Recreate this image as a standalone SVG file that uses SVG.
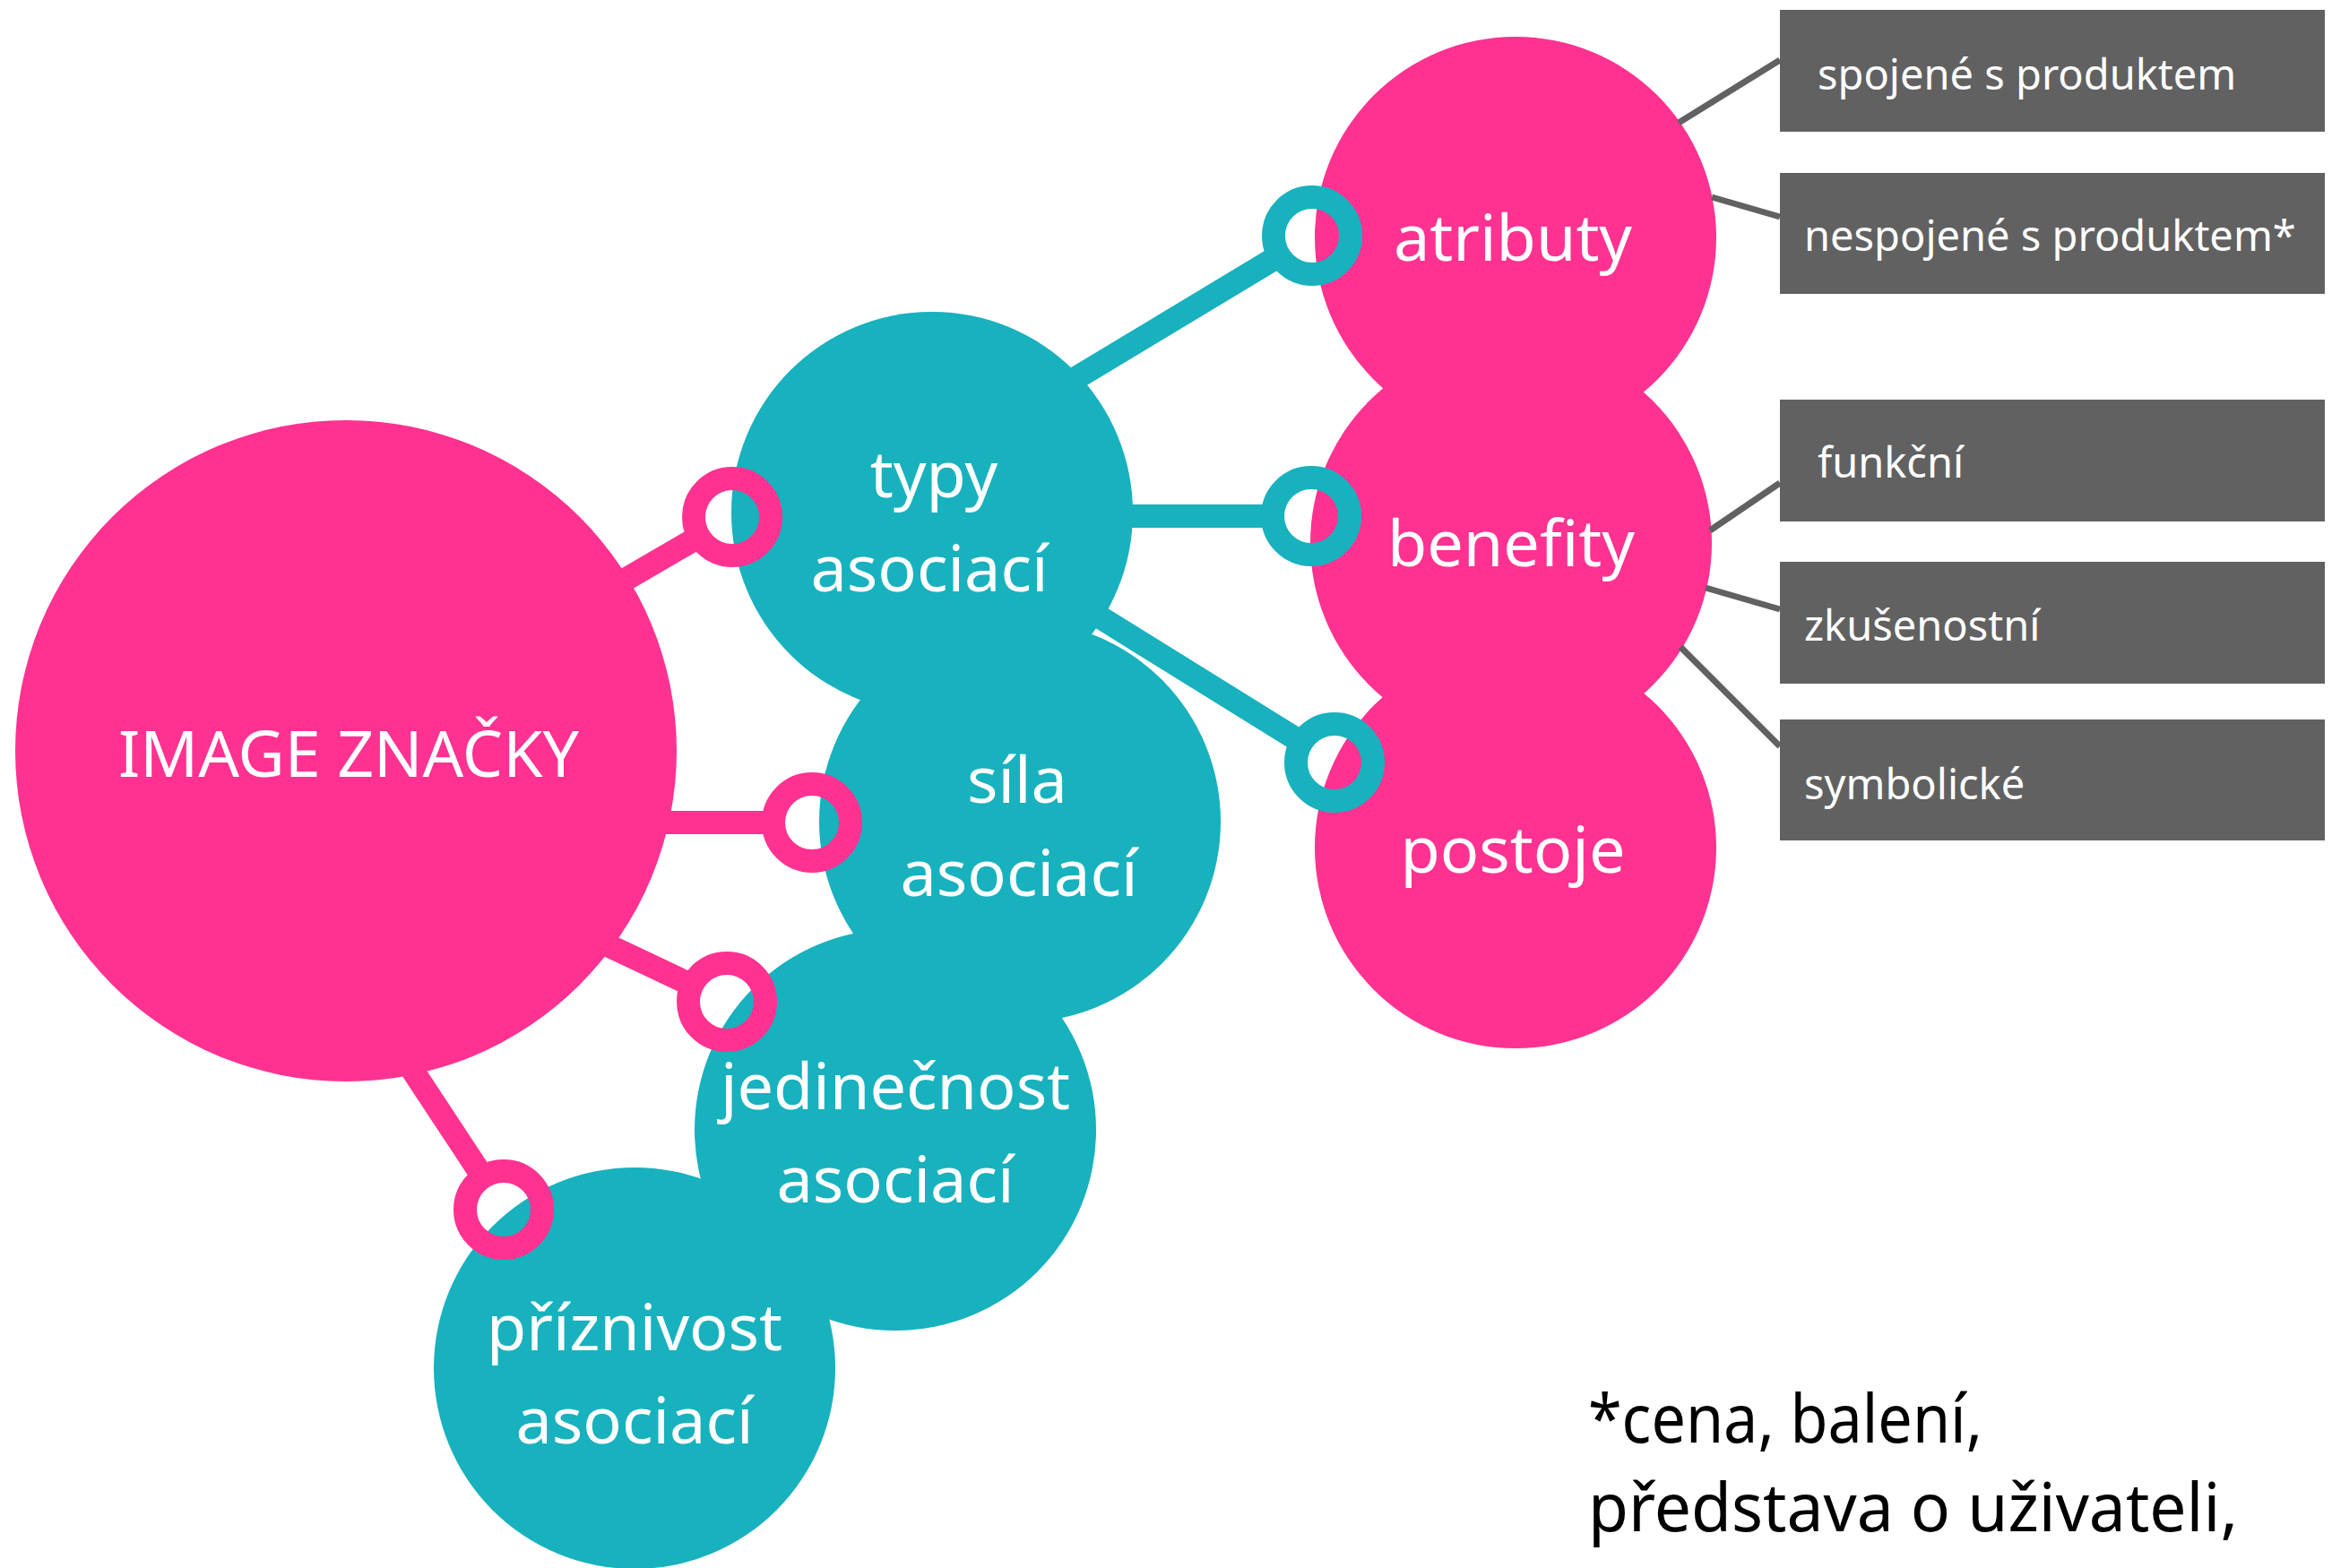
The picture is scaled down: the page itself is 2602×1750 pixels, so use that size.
<svg xmlns="http://www.w3.org/2000/svg" width="2602" height="1750" viewBox="0 0 2602 1750">
<style>
.pink{fill:#FF3291}
.teal{fill:#18B1BE}
.box{fill:#616161}
.lbl{font-family:"Noto Sans","Open Sans","DejaVu Sans",sans-serif;font-size:72px;fill:#FFFFFF;text-anchor:middle}
.blbl{font-family:"Noto Sans","Open Sans","DejaVu Sans",sans-serif;font-size:47px;fill:#FFFFFF}
.note{font-family:"Noto Sans","Open Sans","DejaVu Sans",sans-serif;font-size:74px;fill:#000000}
.lp{stroke:#FF3291;stroke-width:26;fill:none}
.lt{stroke:#18B1BE;stroke-width:26;fill:none}
.lg{stroke:#616161;stroke-width:7;fill:none}
.rp{stroke:#FF3291;stroke-width:26;fill:none}
.rt{stroke:#18B1BE;stroke-width:26;fill:none}
</style>
<rect width="2602" height="1750" fill="#FFFFFF"/>
<g id="node-image">
<circle class="pink" cx="386" cy="838" r="369"/>
<text class="lbl" x="389" y="867" textLength="514" lengthAdjust="spacingAndGlyphs">IMAGE ZNAČKY</text>
</g>
<g id="node-typy">
<circle class="teal" cx="1040" cy="572" r="224"/>
<text class="lbl" x="1042" y="555">typy</text>
<text class="lbl" x="1037" y="660">asociací</text>
</g>
<g id="node-sila">
<circle class="teal" cx="1138" cy="917" r="224"/>
<text class="lbl" x="1135" y="896">síla</text>
<text class="lbl" x="1137" y="1000">asociací</text>
</g>
<g id="node-jedinecnost">
<circle class="teal" cx="999" cy="1261" r="224"/>
<text class="lbl" x="999" y="1238">jedinečnost</text>
<text class="lbl" x="999" y="1342">asociací</text>
</g>
<g id="node-priznivost">
<circle class="teal" cx="708" cy="1527" r="224"/>
<text class="lbl" x="708" y="1507">příznivost</text>
<text class="lbl" x="708" y="1611">asociací</text>
</g>
<g id="node-atributy">
<circle class="pink" cx="1691" cy="265" r="224"/>
<text class="lbl" x="1688" y="291">atributy</text>
</g>
<g id="node-benefity">
<circle class="pink" cx="1686" cy="606" r="224"/>
<text class="lbl" x="1686" y="632">benefity</text>
</g>
<g id="node-postoje">
<circle class="pink" cx="1691" cy="946" r="224"/>
<text class="lbl" x="1688" y="974">postoje</text>
</g>
<g id="node-spojene">
<rect class="box" x="1986" y="11" width="608" height="136"/>
<text class="blbl" x="2028" y="100">spojené s produktem</text>
</g>
<g id="node-nespojene">
<rect class="box" x="1986" y="193" width="608" height="135"/>
<text class="blbl" x="2013" y="280">nespojené s produktem*</text>
</g>
<g id="node-funkcni">
<rect class="box" x="1986" y="446" width="608" height="136"/>
<text class="blbl" x="2028" y="533">funkční</text>
</g>
<g id="node-zkusenostni">
<rect class="box" x="1986" y="627" width="608" height="136"/>
<text class="blbl" x="2013" y="715">zkušenostní</text>
</g>
<g id="node-symbolicke">
<rect class="box" x="1986" y="803" width="608" height="135"/>
<text class="blbl" x="2013" y="892">symbolické</text>
</g>
<g id="node-footnote">
<text class="note" x="1772" y="1610" textLength="440" lengthAdjust="spacingAndGlyphs">*cena, balení,</text>
<text class="note" x="1772" y="1709" textLength="725" lengthAdjust="spacingAndGlyphs">představa o uživateli,</text>
</g>
<g id="connectors">
<line class="lp" x1="694" y1="649" x2="780" y2="599"/>
<line class="lp" x1="740" y1="918" x2="863" y2="918"/>
<line class="lp" x1="676" y1="1054" x2="773" y2="1100"/>
<line class="lp" x1="458" y1="1191" x2="539" y2="1314"/>
<line class="lt" x1="1199" y1="423" x2="1428" y2="285"/>
<line class="lt" x1="1255" y1="576" x2="1420" y2="576"/>
<line class="lt" x1="1226" y1="688" x2="1453" y2="829"/>
<line class="lg" x1="1873" y1="137" x2="1986" y2="67"/>
<line class="lg" x1="1910" y1="220" x2="1986" y2="242"/>
<line class="lg" x1="1908" y1="592" x2="1986" y2="539"/>
<line class="lg" x1="1903" y1="656" x2="1986" y2="680"/>
<line class="lg" x1="1875" y1="722" x2="1986" y2="833"/>
<circle class="rp" cx="817" cy="577" r="43"/>
<circle class="rp" cx="906" cy="918" r="43"/>
<circle class="rp" cx="811" cy="1118" r="43"/>
<circle class="rp" cx="562" cy="1350" r="43"/>
<circle class="rt" cx="1464" cy="263" r="43"/>
<circle class="rt" cx="1463" cy="576" r="43"/>
<circle class="rt" cx="1489" cy="851" r="43"/>
</g>
</svg>
